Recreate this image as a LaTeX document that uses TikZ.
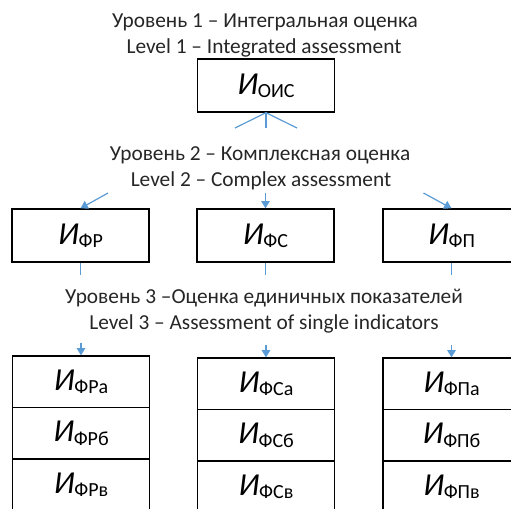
\documentclass[tikz,border=0pt]{standalone}
\usepackage{fontspec}
\setmainfont{Carlito}
\usetikzlibrary{arrows.meta}
\definecolor{lineblue}{HTML}{5B9BD5}
\definecolor{txtgray}{HTML}{262626}
\newcommand{\idxlbl}[2]{{\fontsize{24}{26}\selectfont\textit{#1}}\raisebox{-2.5pt}{\fontsize{15}{17}\selectfont #2}}
\begin{document}
\begin{tikzpicture}[x=0.75pt,y=-0.75pt,
  box/.style={draw=black, line width=1pt, minimum width=102.75pt, minimum height=39.75pt, inner sep=0pt, text=black},
  cell/.style={box, minimum height=38.6pt},
  ttl/.style={anchor=base, text=txtgray, font=\fontsize{16}{19}\selectfont, inner sep=0pt},
  conn/.style={draw=lineblue, line width=0.9pt},
  arr/.style={conn, -{Triangle[length=5.5pt,width=6.5pt]}}]
\useasboundingbox (0,0) rectangle (511,508);
\clip (0,0) rectangle (511,508);
% level 1
\node[ttl] (t1a) at (265,27) {Уровень 1 – Интегральная оценка};
\node[ttl] (t1b) at (264,53) {Level 1 – Integrated assessment};
\node[box] (ois) at (266,85.5) {\idxlbl{И}{ОИС}};
\coordinate (f1) at (235,128);
\coordinate (f2) at (266,128);
\coordinate (f3) at (297,128);
\draw[conn] (ois.south) -- (f1);
\draw[conn] (ois.south) -- (f2);
\draw[conn] (ois.south) -- (f3);
% level 2
\node[ttl] (t2a) at (260,160) {Уровень 2 – Комплексная оценка};
\node[ttl] (t2b) at (261,186) {Level 2 – Complex assessment};
\node[box] (fr) at (80.5,235.5) {\idxlbl{И}{ФР}};
\node[box] (fc) at (265.5,235.5) {\idxlbl{И}{ФС}};
\node[box] (fp) at (451.5,235.5) {\idxlbl{И}{ФП}};
\coordinate (a1) at (108,193);
\coordinate (a2) at (265.5,193);
\coordinate (a3) at (423.5,193);
\draw[arr] (a1) -- (fr.north);
\draw[arr] (a2) -- (fc.north);
\draw[arr] (a3) -- (fp.north);
\coordinate (s1) at (80.5,275);
\coordinate (s2) at (265.5,275);
\coordinate (s3) at (451.5,275);
\draw[conn] (fr.south) -- (s1);
\draw[conn] (fc.south) -- (s2);
\draw[conn] (fp.south) -- (s3);
% level 3
\node[ttl] (t3a) at (264,303) {Уровень 3 –Оценка единичных показателей};
\node[ttl] (t3b) at (264,329) {Level 3 – Assessment of single indicators};
\node[cell] (fra) at (81,381.75) {\idxlbl{И}{ФРа}};
\node[cell] (frb) at (81,433.25) {\idxlbl{И}{ФРб}};
\node[cell] (frv) at (81,484.75) {\idxlbl{И}{ФРв}};
\node[cell] (fca) at (266,383.75) {\idxlbl{И}{ФСа}};
\node[cell] (fcb) at (266,435.25) {\idxlbl{И}{ФСб}};
\node[cell] (fcv) at (266,486.75) {\idxlbl{И}{ФСв}};
\node[cell] (fpa) at (451.5,383.75) {\idxlbl{И}{ФПа}};
\node[cell] (fpb) at (451.5,435.25) {\idxlbl{И}{ФПб}};
\node[cell] (fpv) at (451.5,486.75) {\idxlbl{И}{ФПв}};
\coordinate (b1) at (81,343);
\coordinate (b2) at (266,345);
\coordinate (b3) at (451.5,345);
\draw[arr] (b1) -- (fra.north);
\draw[arr] (b2) -- (fca.north);
\draw[arr] (b3) -- (fpa.north);
\end{tikzpicture}
\end{document}
